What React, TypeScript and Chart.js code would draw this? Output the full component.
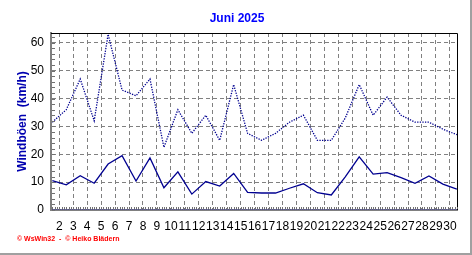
import React, { useEffect, useRef } from 'react';
import { Chart, registerables } from 'chart.js';

Chart.register(...registerables);

// ---- data ----
const title = 'Juni 2025';
const yAxisTitle = 'Windböen  (km/h)';
const footerText = '© WsWin32  -  © Heiko Blädern';
const days = [1, 2, 3, 4, 5, 6, 7, 8, 9, 10, 11, 12, 13, 14, 15, 16, 17, 18, 19, 20, 21, 22, 23, 24, 25, 26, 27, 28, 29, 30];
const maxGusts = [31.5, 36, 47, 32, 63, 43, 41, 47, 22.5, 36, 27.5, 34, 25, 45, 27.5, 25, 27.5, 31.5, 34, 25, 25, 33, 45, 34, 40.5, 34, 31.5, 31.5, 29, 27];
const meanGusts = [10.5, 9, 12.3, 9.6, 16.5, 19.5, 10.4, 18.7, 8, 13.7, 5.7, 10.2, 8.6, 13.1, 6.3, 6.1, 6.1, 7.8, 9.4, 6.2, 5.4, 11.9, 19.1, 12.9, 13.4, 11.6, 9.6, 12.2, 9.3, 7.5];
const zeroSeries = [0, 0, 0, 0, 0, 0, 0, 0, 0, 0, 0, 0, 0, 0, 0, 0, 0, 0, 0, 0, 0, 0, 0, 0, 0, 0, 0, 0, 0, 0];
const xMin = 1.405;
const xMax = 30.51;
const yMin = 0;
const yMax = 63.5;
const yStep = 10;

const FONT = "Arial, 'Liberation Sans', sans-serif";

const toPoints = (vals: number[]) => days.map((d, i) => ({ x: d + 0.5, y: vals[i] }));

const decorPlugin = {
  id: 'decor',
  beforeDraw(chart: any) {
    const { ctx } = chart;
    ctx.save();
    ctx.fillStyle = '#ffffff';
    ctx.fillRect(0, 0, chart.width, chart.height);
    ctx.restore();
  },
  afterDraw(chart: any) {
    const { ctx, chartArea } = chart;
    const { left, right, top, bottom } = chartArea;
    const xs = chart.scales.x;
    const ys = chart.scales.y;
    ctx.save();
    // top & right frame
    ctx.strokeStyle = '#000000';
    ctx.lineWidth = 1;
    ctx.beginPath();
    ctx.moveTo(left, Math.round(top) + 0.5);
    ctx.lineTo(Math.round(right) + 0.5, Math.round(top) + 0.5);
    ctx.lineTo(Math.round(right) + 0.5, bottom);
    ctx.stroke();
    // minor ticks on the left axis
    ctx.strokeStyle = '#707070';
    ctx.beginPath();
    for (let v = yMin; v <= yMax; v += 2) {
      const y = Math.round(ys.getPixelForValue(v)) + 0.5;
      ctx.moveTo(left + 1, y);
      ctx.lineTo(left + 4, y);
    }
    // minor ticks on the bottom axis
    for (let k = Math.ceil(xMin * 6); k / 6 <= xMax; k++) {
      const x = Math.round(xs.getPixelForValue(k / 6)) + 0.5;
      ctx.moveTo(x, bottom - 1);
      ctx.lineTo(x, bottom - 3);
    }
    ctx.stroke();
    // title
    ctx.fillStyle = '#0000ff';
    ctx.font = `bold 12px ${FONT}`;
    ctx.textAlign = 'center';
    ctx.textBaseline = 'middle';
    ctx.fillText(title, 237, 19);
    // footer
    ctx.fillStyle = '#ff0000';
    ctx.font = `bold 7px ${FONT}`;
    ctx.textAlign = 'left';
    ctx.fillText(footerText, 17, 239);
    // window frame
    ctx.fillStyle = '#a0a0a0';
    ctx.fillRect(470, 0, 2, chart.height);
    ctx.fillRect(0, 253, chart.width, 2);
    ctx.restore();
  },
};

export default function App() {
  const ref = useRef<HTMLCanvasElement | null>(null);
  useEffect(() => {
    if (!ref.current) return;
    const chart = new Chart(ref.current, {
      type: 'line',
      data: {
        datasets: [
          {
            label: 'zero',
            data: toPoints(zeroSeries),
            borderColor: '#0000a0',
            borderWidth: 1,
            borderDash: [1, 1],
            pointRadius: 0,
            tension: 0,
          },
          {
            label: 'max',
            data: toPoints(maxGusts),
            borderColor: '#000090',
            borderWidth: 1.3,
            borderDash: [1.3, 1.3],
            pointRadius: 0,
            tension: 0,
          },
          {
            label: 'mean',
            data: toPoints(meanGusts),
            borderColor: '#000090',
            borderWidth: 1.3,
            pointRadius: 0,
            tension: 0,
          },
        ],
      },
      options: {
        responsive: false,
        animation: false,
        devicePixelRatio: 1,
        layout: { padding: { top: 33, right: 15, bottom: 0, left: 0 } },
        plugins: { legend: { display: false }, tooltip: { enabled: false }, title: { display: false } },
        scales: {
          x: {
            type: 'linear',
            min: xMin,
            max: xMax,
            afterFit: (s: any) => { s.height = 45; },
            ticks: {
              stepSize: 1,
              includeBounds: false,
              autoSkip: false,
              maxRotation: 0,
              padding: 9,
              color: '#000000',
              font: { family: FONT, size: 12 },
              callback: (v: any) => String(v),
            },
            grid: { color: '#808080', lineWidth: 1, drawTicks: false },
            border: { display: true, color: '#808080', width: 2, dash: [4, 3] },
          },
          y: {
            type: 'linear',
            min: yMin,
            max: yMax,
            afterFit: (s: any) => { s.width = 51; },
            ticks: {
              stepSize: yStep,
              includeBounds: false,
              padding: 7,
              color: '#000000',
              font: { family: FONT, size: 12 },
            },
            grid: { color: '#808080', lineWidth: 1, drawTicks: false },
            border: { display: true, color: '#808080', width: 2, dash: [4, 3] },
            title: {
              display: true,
              text: yAxisTitle,
              color: '#0000b0',
              font: { family: FONT, size: 12, weight: 'bold' },
              padding: { top: 15, bottom: 0 },
            },
          },
        },
      },
      plugins: [decorPlugin],
    });
    return () => chart.destroy();
  }, []);
  return (
    <div style={{ position: 'fixed', left: 0, top: 0, width: 472, height: 255, background: '#fff' }}>
      <canvas ref={ref} width={472} height={255} style={{ width: 472, height: 255, display: 'block' }} />
    </div>
  );
}
